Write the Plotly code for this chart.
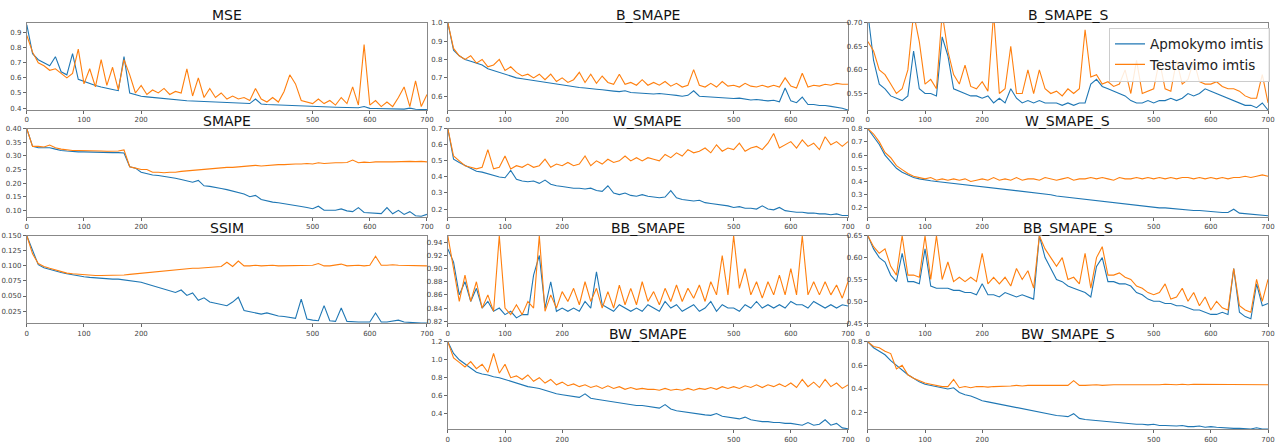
import plotly.graph_objects as go

epochs = list(range(0, 701, 10))

mse_train = [0.95, 0.76, 0.72, 0.70, 0.68, 0.74, 0.64, 0.62, 0.76, 0.59,
             0.575, 0.56, 0.55, 0.54, 0.53, 0.523, 0.515, 0.74, 0.50, 0.49,
             0.478, 0.474, 0.47, 0.466, 0.462, 0.458, 0.455, 0.452, 0.449, 0.447,
             0.445, 0.442, 0.44, 0.438, 0.436, 0.434, 0.432, 0.43, 0.43, 0.43,
             0.46, 0.427, 0.424, 0.422, 0.42, 0.418, 0.416, 0.415, 0.414, 0.412,
             0.41, 0.409, 0.408, 0.407, 0.406, 0.405, 0.404, 0.403, 0.402, 0.41,
             0.398, 0.397, 0.396, 0.395, 0.394, 0.393, 0.393, 0.40, 0.392, 0.391,
             0.39]
mse_test = [0.88, 0.77, 0.70, 0.68, 0.65, 0.66, 0.63, 0.60, 0.63, 0.79,
            0.56, 0.66, 0.54, 0.72, 0.55, 0.67, 0.52, 0.72, 0.62, 0.50,
            0.55, 0.49, 0.52, 0.50, 0.53, 0.49, 0.51, 0.50, 0.66, 0.48,
            0.60, 0.47, 0.53, 0.47, 0.50, 0.46, 0.48, 0.46, 0.47, 0.45,
            0.53, 0.46, 0.44, 0.47, 0.44, 0.51, 0.62, 0.56, 0.45, 0.44,
            0.43, 0.46, 0.43, 0.45, 0.42, 0.47, 0.43, 0.54, 0.42, 0.82,
            0.42, 0.45, 0.41, 0.44, 0.41, 0.47, 0.54, 0.41, 0.58, 0.41,
            0.49]

b_smape_train = [1.0, 0.85, 0.82, 0.80, 0.79, 0.78, 0.77, 0.75, 0.74, 0.73,
                 0.72, 0.71, 0.70, 0.695, 0.69, 0.685, 0.68, 0.675, 0.67, 0.665,
                 0.66, 0.655, 0.65, 0.648, 0.645, 0.64, 0.638, 0.635, 0.63, 0.628,
                 0.625, 0.63, 0.62, 0.618, 0.62, 0.615, 0.612, 0.615, 0.61, 0.608,
                 0.605, 0.60, 0.605, 0.63, 0.60, 0.598, 0.595, 0.595, 0.592, 0.59,
                 0.588, 0.59, 0.585, 0.58, 0.582, 0.578, 0.575, 0.578, 0.57, 0.645,
                 0.575, 0.565, 0.595, 0.555, 0.555, 0.55, 0.55, 0.545, 0.54, 0.535,
                 0.525]
b_smape_test = [1.0, 0.86, 0.82, 0.80, 0.82, 0.78, 0.80, 0.76, 0.77, 0.80,
                0.74, 0.76, 0.73, 0.71, 0.72, 0.70, 0.72, 0.69, 0.72, 0.68,
                0.70, 0.675, 0.69, 0.73, 0.675, 0.72, 0.67, 0.71, 0.675, 0.665,
                0.72, 0.665, 0.675, 0.66, 0.69, 0.66, 0.675, 0.66, 0.68, 0.655,
                0.67, 0.65, 0.66, 0.745, 0.66, 0.65, 0.67, 0.65, 0.68, 0.655,
                0.66, 0.65, 0.67, 0.655, 0.65, 0.66, 0.65, 0.66, 0.65, 0.70,
                0.655, 0.645, 0.725, 0.65, 0.66, 0.655, 0.665, 0.66, 0.67, 0.665,
                0.665]

b_smape_s_train = [0.72, 0.62, 0.57, 0.56, 0.545, 0.54, 0.535, 0.545, 0.64, 0.56,
                   0.55, 0.55, 0.545, 0.67, 0.63, 0.56, 0.555, 0.55, 0.545, 0.545,
                   0.54, 0.545, 0.53, 0.54, 0.53, 0.56, 0.54, 0.53, 0.535, 0.53,
                   0.535, 0.53, 0.53, 0.53, 0.525, 0.53, 0.525, 0.53, 0.53, 0.57,
                   0.58, 0.565, 0.56, 0.555, 0.55, 0.545, 0.535, 0.53, 0.53, 0.535,
                   0.53, 0.535, 0.535, 0.54, 0.535, 0.54, 0.55, 0.545, 0.55, 0.56,
                   0.555, 0.55, 0.545, 0.54, 0.535, 0.53, 0.525, 0.525, 0.52, 0.53,
                   0.515]
b_smape_s_test = [0.66, 0.64, 0.60, 0.59, 0.57, 0.55, 0.56, 0.60, 0.72, 0.66,
                  0.57, 0.58, 0.56, 0.72, 0.64, 0.59, 0.57, 0.61, 0.565, 0.56,
                  0.575, 0.555, 0.72, 0.55, 0.56, 0.65, 0.55, 0.55, 0.60, 0.55,
                  0.60, 0.56, 0.55, 0.555, 0.545, 0.56, 0.55, 0.56, 0.685, 0.585,
                  0.59, 0.57, 0.575, 0.565, 0.57, 0.60, 0.55, 0.62, 0.55, 0.555,
                  0.56, 0.62, 0.56, 0.555, 0.62, 0.57, 0.58, 0.62, 0.575, 0.57,
                  0.57, 0.575, 0.565, 0.56, 0.56, 0.555, 0.545, 0.54, 0.54, 0.59,
                  0.53]

smape_train = [0.40, 0.335, 0.33, 0.33, 0.33, 0.325, 0.32, 0.318, 0.316, 0.315,
               0.315, 0.314, 0.313, 0.313, 0.312, 0.312, 0.312, 0.311, 0.26, 0.255,
               0.24, 0.235, 0.23, 0.228, 0.225, 0.222, 0.218, 0.213, 0.208, 0.203,
               0.21, 0.19, 0.188, 0.185, 0.18, 0.176, 0.17, 0.165, 0.16, 0.15,
               0.155, 0.14, 0.135, 0.13, 0.128, 0.125, 0.12, 0.118, 0.114, 0.11,
               0.106, 0.115, 0.10, 0.10, 0.10, 0.105, 0.098, 0.095, 0.11, 0.092,
               0.09, 0.09, 0.088, 0.11, 0.087, 0.10, 0.085, 0.095, 0.08, 0.078,
               0.085]
smape_test = [0.40, 0.335, 0.335, 0.333, 0.34, 0.33, 0.325, 0.322, 0.32, 0.32,
              0.32, 0.318, 0.318, 0.318, 0.317, 0.317, 0.318, 0.322, 0.26, 0.255,
              0.25, 0.25, 0.24, 0.24, 0.238, 0.24, 0.24, 0.243, 0.245, 0.245,
              0.247, 0.25, 0.252, 0.253, 0.255, 0.258, 0.258, 0.26, 0.262, 0.262,
              0.265, 0.263, 0.265, 0.265, 0.268, 0.268, 0.27, 0.27, 0.27, 0.272,
              0.27, 0.275, 0.272, 0.274, 0.275, 0.275, 0.276, 0.285, 0.275, 0.277,
              0.276, 0.278, 0.277, 0.278, 0.278, 0.279, 0.278, 0.28, 0.279, 0.28,
              0.278]

w_smape_train = [0.70, 0.51, 0.49, 0.47, 0.45, 0.435, 0.43, 0.42, 0.41, 0.40,
                 0.395, 0.44, 0.385, 0.375, 0.37, 0.375, 0.36, 0.38, 0.355, 0.345,
                 0.34, 0.335, 0.33, 0.33, 0.325, 0.33, 0.315, 0.31, 0.345, 0.30,
                 0.29, 0.30, 0.285, 0.28, 0.29, 0.28, 0.275, 0.27, 0.275, 0.315,
                 0.27, 0.26, 0.255, 0.25, 0.255, 0.24, 0.235, 0.23, 0.225, 0.22,
                 0.21, 0.215, 0.205, 0.205, 0.20, 0.22, 0.20, 0.195, 0.21, 0.19,
                 0.185, 0.18, 0.18, 0.175, 0.175, 0.17, 0.17, 0.165, 0.17, 0.16,
                 0.16]
w_smape_test = [0.70, 0.53, 0.50, 0.47, 0.46, 0.45, 0.46, 0.57, 0.45, 0.46,
                0.53, 0.45, 0.47, 0.46, 0.48, 0.46, 0.47, 0.51, 0.46, 0.48,
                0.47, 0.49, 0.47, 0.48, 0.53, 0.47, 0.50, 0.48, 0.51, 0.49,
                0.50, 0.53, 0.50, 0.52, 0.50, 0.52, 0.51, 0.50, 0.54, 0.52,
                0.55, 0.53, 0.57, 0.55, 0.56, 0.58, 0.55, 0.60, 0.56, 0.58,
                0.57, 0.61, 0.56, 0.58, 0.59, 0.57, 0.61, 0.67, 0.58, 0.60,
                0.62, 0.58, 0.63, 0.59, 0.61, 0.57, 0.65, 0.60, 0.62, 0.59,
                0.62]

w_smape_s_train = [0.80, 0.74, 0.68, 0.60, 0.55, 0.50, 0.47, 0.45, 0.43, 0.42,
                   0.41, 0.405, 0.40, 0.395, 0.39, 0.385, 0.38, 0.375, 0.37, 0.365,
                   0.36, 0.355, 0.35, 0.345, 0.34, 0.335, 0.33, 0.325, 0.32, 0.315,
                   0.31, 0.305, 0.30, 0.29, 0.285, 0.28, 0.275, 0.27, 0.265, 0.26,
                   0.25, 0.245, 0.24, 0.235, 0.23, 0.225, 0.22, 0.215, 0.21, 0.21,
                   0.205, 0.20, 0.20, 0.195, 0.19, 0.19, 0.185, 0.18, 0.18, 0.175,
                   0.17, 0.17, 0.165, 0.165, 0.19, 0.16, 0.155, 0.15, 0.15, 0.145,
                   0.14]
w_smape_s_test = [0.80, 0.76, 0.70, 0.62, 0.58, 0.52, 0.49, 0.46, 0.44, 0.43,
                  0.42, 0.43, 0.41, 0.42, 0.41, 0.42, 0.41, 0.42, 0.40, 0.41,
                  0.42, 0.41, 0.43, 0.41, 0.42, 0.41, 0.43, 0.41, 0.42, 0.42,
                  0.41, 0.43, 0.42, 0.41, 0.42, 0.43, 0.41, 0.42, 0.42, 0.43,
                  0.42, 0.43, 0.42, 0.41, 0.43, 0.42, 0.42, 0.43, 0.42, 0.43,
                  0.42, 0.43, 0.42, 0.43, 0.42, 0.43, 0.43, 0.42, 0.43, 0.42,
                  0.43, 0.42, 0.43, 0.42, 0.43, 0.43, 0.44, 0.43, 0.44, 0.45,
                  0.44]

ssim_train = [0.150, 0.125, 0.102, 0.097, 0.094, 0.092, 0.089, 0.087, 0.085, 0.083,
              0.082, 0.081, 0.080, 0.080, 0.079, 0.078, 0.078, 0.077, 0.076, 0.074,
              0.073, 0.070, 0.067, 0.065, 0.062, 0.059, 0.056, 0.060, 0.051, 0.055,
              0.043, 0.047, 0.040, 0.038, 0.036, 0.034, 0.040, 0.048, 0.026, 0.024,
              0.021, 0.020, 0.022, 0.019, 0.017, 0.016, 0.014, 0.013, 0.045, 0.012,
              0.010, 0.009, 0.034, 0.009, 0.008, 0.030, 0.008, 0.007, 0.007, 0.007,
              0.007, 0.022, 0.007, 0.007, 0.009, 0.010, 0.007, 0.006, 0.006, 0.005,
              0.005]
ssim_test = [0.150, 0.120, 0.104, 0.099, 0.096, 0.093, 0.090, 0.088, 0.087, 0.086,
             0.085, 0.085, 0.084, 0.084, 0.084, 0.084, 0.085, 0.085, 0.086, 0.087,
             0.088, 0.089, 0.090, 0.091, 0.092, 0.093, 0.094, 0.094, 0.095, 0.096,
             0.096, 0.097, 0.098, 0.098, 0.099, 0.106, 0.099, 0.108, 0.100, 0.100,
             0.101, 0.100, 0.101, 0.101, 0.100, 0.100, 0.101, 0.100, 0.100, 0.100,
             0.101, 0.104, 0.100, 0.100, 0.101, 0.103, 0.100, 0.101, 0.101, 0.100,
             0.101, 0.116, 0.101, 0.101, 0.102, 0.101, 0.101, 0.101, 0.101, 0.101,
             0.100]

bb_smape_train = [0.93, 0.91, 0.86, 0.88, 0.85, 0.87, 0.84, 0.85, 0.835, 0.84,
                  0.83, 0.835, 0.825, 0.83, 0.83, 0.89, 0.92, 0.84, 0.88, 0.835,
                  0.84, 0.835, 0.84, 0.835, 0.85, 0.84, 0.895, 0.845, 0.84, 0.835,
                  0.845, 0.84, 0.835, 0.84, 0.835, 0.845, 0.84, 0.835, 0.85, 0.84,
                  0.845, 0.835, 0.84, 0.845, 0.835, 0.84, 0.85, 0.835, 0.845, 0.84,
                  0.84, 0.835, 0.845, 0.84, 0.85, 0.84, 0.845, 0.84, 0.845, 0.84,
                  0.85, 0.845, 0.845, 0.84, 0.85, 0.845, 0.84, 0.845, 0.84, 0.845,
                  0.843]
bb_smape_test = [0.95, 0.90, 0.85, 0.89, 0.85, 0.88, 0.84, 0.86, 0.835, 0.95,
                 0.84, 0.83, 0.845, 0.83, 0.85, 0.84, 0.95, 0.835, 0.86, 0.84,
                 0.865, 0.85, 0.87, 0.845, 0.88, 0.85, 0.87, 0.84, 0.865, 0.84,
                 0.875, 0.845, 0.87, 0.845, 0.88, 0.85, 0.865, 0.845, 0.87, 0.85,
                 0.875, 0.85, 0.87, 0.855, 0.875, 0.85, 0.88, 0.86, 0.92, 0.86,
                 0.95, 0.87, 0.90, 0.86, 0.88, 0.855, 0.88, 0.86, 0.89, 0.86,
                 0.90, 0.86, 0.95, 0.86, 0.88, 0.86, 0.88, 0.86, 0.875, 0.855,
                 0.88]

bb_smape_s_train = [0.65, 0.62, 0.60, 0.59, 0.56, 0.545, 0.61, 0.545, 0.545, 0.54,
                    0.62, 0.535, 0.53, 0.53, 0.53, 0.525, 0.525, 0.52, 0.52, 0.515,
                    0.54, 0.515, 0.515, 0.51, 0.52, 0.515, 0.51, 0.515, 0.51, 0.505,
                    0.65, 0.60, 0.575, 0.55, 0.545, 0.535, 0.53, 0.525, 0.52, 0.51,
                    0.58, 0.60, 0.545, 0.545, 0.54, 0.54, 0.535, 0.52, 0.515, 0.505,
                    0.50, 0.50, 0.495, 0.495, 0.49, 0.49, 0.485, 0.48, 0.48, 0.475,
                    0.47, 0.47, 0.475, 0.47, 0.575, 0.475, 0.465, 0.46, 0.54, 0.49,
                    0.495]
bb_smape_s_test = [0.65, 0.625, 0.61, 0.62, 0.58, 0.56, 0.65, 0.56, 0.56, 0.555,
                   0.65, 0.55, 0.65, 0.55, 0.59, 0.545, 0.555, 0.545, 0.555, 0.545,
                   0.61, 0.54, 0.555, 0.54, 0.555, 0.535, 0.575, 0.55, 0.57, 0.53,
                   0.65, 0.62, 0.60, 0.58, 0.60, 0.55, 0.555, 0.54, 0.61, 0.53,
                   0.60, 0.625, 0.56, 0.56, 0.565, 0.555, 0.55, 0.535, 0.53, 0.52,
                   0.515, 0.52, 0.54, 0.505, 0.51, 0.53, 0.50, 0.52, 0.49, 0.51,
                   0.48, 0.50, 0.485, 0.48, 0.575, 0.49, 0.48, 0.475, 0.55, 0.50,
                   0.55]

bw_smape_train = [1.20, 1.07, 1.00, 0.95, 0.90, 0.86, 0.84, 0.83, 0.81, 0.80,
                  0.78, 0.76, 0.74, 0.72, 0.70, 0.69, 0.68, 0.66, 0.64, 0.62,
                  0.61, 0.60, 0.59, 0.58, 0.62, 0.57, 0.56, 0.55, 0.54, 0.53,
                  0.52, 0.51, 0.50, 0.49, 0.49, 0.48, 0.47, 0.46, 0.50, 0.45,
                  0.43, 0.42, 0.41, 0.40, 0.39, 0.385, 0.38, 0.40, 0.37, 0.36,
                  0.35, 0.34, 0.36, 0.33, 0.32, 0.31, 0.31, 0.30, 0.30, 0.29,
                  0.29, 0.28, 0.27, 0.30, 0.27, 0.28, 0.33, 0.27, 0.29, 0.24,
                  0.23]
bw_smape_test = [1.20, 1.02, 0.97, 0.92, 0.98, 0.90, 0.95, 0.86, 1.07, 0.85,
                 0.95, 0.80, 0.82, 0.78, 0.83, 0.76, 0.80, 0.74, 0.78, 0.72,
                 0.75, 0.71, 0.73, 0.70, 0.72, 0.69, 0.71, 0.68, 0.71, 0.68,
                 0.70, 0.67, 0.69, 0.67, 0.68, 0.67, 0.67, 0.66, 0.68, 0.66,
                 0.67, 0.66, 0.68, 0.66, 0.68, 0.67, 0.69, 0.67, 0.70, 0.68,
                 0.70, 0.68, 0.71, 0.69, 0.72, 0.69, 0.72, 0.70, 0.73, 0.70,
                 0.74, 0.69, 0.78, 0.70, 0.75, 0.69, 0.78, 0.70, 0.74, 0.68,
                 0.72]

bw_smape_s_train = [0.80, 0.75, 0.72, 0.69, 0.64, 0.60, 0.56, 0.52, 0.49, 0.46,
                    0.44, 0.43, 0.42, 0.41, 0.40, 0.41, 0.37, 0.35, 0.34, 0.32,
                    0.30, 0.29, 0.28, 0.27, 0.26, 0.25, 0.24, 0.23, 0.22, 0.21,
                    0.20, 0.19, 0.18, 0.175, 0.17, 0.165, 0.19, 0.15, 0.14, 0.135,
                    0.13, 0.125, 0.12, 0.115, 0.11, 0.11, 0.105, 0.10, 0.10, 0.095,
                    0.10, 0.09, 0.09, 0.085, 0.085, 0.09, 0.08, 0.08, 0.085, 0.075,
                    0.08, 0.075, 0.07, 0.07, 0.065, 0.065, 0.065, 0.06, 0.07, 0.06,
                    0.06]
bw_smape_s_test = [0.80, 0.76, 0.75, 0.72, 0.70, 0.57, 0.60, 0.52, 0.49, 0.47,
                   0.45, 0.44, 0.43, 0.42, 0.42, 0.48, 0.41, 0.42, 0.41, 0.42,
                   0.42, 0.415, 0.42, 0.42, 0.42, 0.425, 0.43, 0.425, 0.43, 0.43,
                   0.43, 0.43, 0.43, 0.43, 0.435, 0.43, 0.47, 0.43, 0.43, 0.435,
                   0.435, 0.43, 0.435, 0.435, 0.435, 0.435, 0.43, 0.435, 0.435, 0.435,
                   0.435, 0.435, 0.44, 0.435, 0.435, 0.44, 0.435, 0.44, 0.44, 0.44,
                   0.44, 0.44, 0.44, 0.44, 0.44, 0.44, 0.44, 0.44, 0.44, 0.44,
                   0.435]

x_ticks = [0, 100, 200, 500, 600, 700]

BLUE = "#1f77b4"
ORANGE = "#ff7f0e"
W, H = 1277, 445

col_px = {1: (25, 428), 2: (449, 852), 3: (872, 1275)}
row_px = {1: (19, 108), 2: (127, 217), 3: (236, 325), 4: (344, 433)}

panels = [
    ("MSE", 1, 1, mse_train, mse_test, [0.387, 0.965], [0.4, 0.5, 0.6, 0.7, 0.8, 0.9], ".1f"),
    ("B_SMAPE", 1, 2, b_smape_train, b_smape_test, [0.525, 1.0], [0.6, 0.7, 0.8, 0.9, 1.0], ".1f"),
    ("B_SMAPE_S", 1, 3, b_smape_s_train, b_smape_s_test, [0.515, 0.70], [0.55, 0.60, 0.65, 0.70], ".2f"),
    ("SMAPE", 2, 1, smape_train, smape_test, [0.075, 0.40], [0.10, 0.15, 0.20, 0.25, 0.30, 0.35, 0.40], ".2f"),
    ("W_SMAPE", 2, 2, w_smape_train, w_smape_test, [0.15, 0.70], [0.2, 0.3, 0.4, 0.5, 0.6, 0.7], ".1f"),
    ("W_SMAPE_S", 2, 3, w_smape_s_train, w_smape_s_test, [0.13, 0.80], [0.2, 0.3, 0.4, 0.5, 0.6, 0.7, 0.8], ".1f"),
    ("SSIM", 3, 1, ssim_train, ssim_test, [0.005, 0.150], [0.025, 0.050, 0.075, 0.100, 0.125, 0.150], ".3f"),
    ("BB_SMAPE", 3, 2, bb_smape_train, bb_smape_test, [0.817, 0.95], [0.82, 0.84, 0.86, 0.88, 0.90, 0.92, 0.94], ".2f"),
    ("BB_SMAPE_S", 3, 3, bb_smape_s_train, bb_smape_s_test, [0.45, 0.65], [0.45, 0.50, 0.55, 0.60, 0.65], ".2f"),
    ("BW_SMAPE", 4, 2, bw_smape_train, bw_smape_test, [0.225, 1.2], [0.4, 0.6, 0.8, 1.0, 1.2], ".1f"),
    ("BW_SMAPE_S", 4, 3, bw_smape_s_train, bw_smape_s_test, [0.058, 0.80], [0.2, 0.4, 0.6, 0.8], ".1f"),
]

fig = go.Figure()
layout = dict(
    width=W, height=H, autosize=False,
    margin=dict(l=0, r=0, t=0, b=0),
    paper_bgcolor="white", plot_bgcolor="white",
    font=dict(family="DejaVu Sans", color="#222"),
    showlegend=True,
    legend=dict(x=1.0, y=1 - 24 / H, xanchor="right", yanchor="top",
                bordercolor="#cccccc", borderwidth=1, bgcolor="rgba(255,255,255,0.85)",
                font=dict(size=13.5, family="DejaVu Sans", color="#222"),
                tracegroupgap=0, itemwidth=30),
    annotations=[],
)

for i, (name, r, c, tr, te, yr, yt, fmt) in enumerate(panels, start=1):
    sfx = "" if i == 1 else str(i)
    x0, x1 = col_px[c]
    y0, y1 = row_px[r]
    xd = [x0 / W, x1 / W]
    yd = [1 - y1 / H, 1 - y0 / H]
    fig.add_trace(go.Scatter(x=epochs, y=tr, mode="lines", name="Apmokymo imtis",
                             line=dict(color=BLUE, width=1.1), xaxis="x" + sfx, yaxis="y" + sfx,
                             showlegend=(name == "B_SMAPE_S"), legendgroup="train"))
    fig.add_trace(go.Scatter(x=epochs, y=te, mode="lines", name="Testavimo imtis",
                             line=dict(color=ORANGE, width=1.1), xaxis="x" + sfx, yaxis="y" + sfx,
                             showlegend=(name == "B_SMAPE_S"), legendgroup="test"))
    axcommon = dict(showline=True, mirror=True, linecolor="#888", linewidth=1,
                    ticks="outside", ticklen=3, tickwidth=0.8, tickcolor="#666",
                    showgrid=False, zeroline=False,
                    tickfont=dict(size=7, color="#444", family="DejaVu Sans"))
    layout["xaxis" + sfx] = dict(domain=xd, anchor="y" + sfx, range=[0, 700],
                                 tickvals=x_ticks, **axcommon)
    layout["yaxis" + sfx] = dict(domain=yd, anchor="x" + sfx, range=yr,
                                 tickvals=yt, tickformat=fmt, **axcommon)
    layout["annotations"].append(dict(
        text=name, x=(xd[0] + xd[1]) / 2, y=yd[1], xref="paper", yref="paper",
        xanchor="center", yanchor="bottom", showarrow=False, yshift=-2,
        font=dict(size=14, family="DejaVu Sans", color="#111")))

fig.update_layout(**layout)
fig.write_html("out.html")
